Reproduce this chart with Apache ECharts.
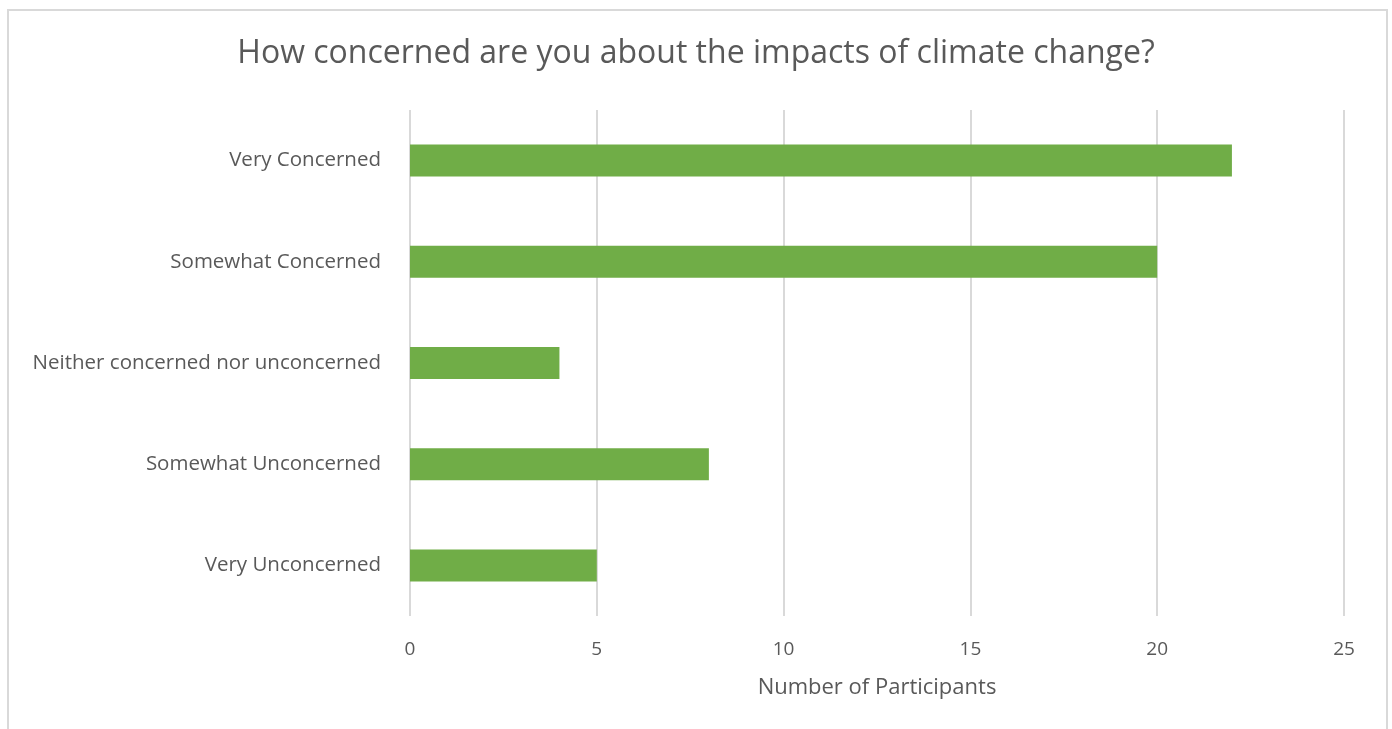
<!DOCTYPE html>
<html>
<head>
<meta charset="utf-8">
<script src="https://cdn.jsdelivr.net/npm/echarts@6/dist/echarts.min.js"></script>
<style>
  html, body { margin: 0; padding: 0; background: #fff; }
  #chart { width: 1392px; height: 729px; }
</style>
</head>
<body>
<div id="chart"></div>
<script>
// Survey responses, listed bottom-to-top as the category axis draws them
const categories = [
  'Very Unconcerned',
  'Somewhat Unconcerned',
  'Neither concerned nor unconcerned',
  'Somewhat Concerned',
  'Very Concerned'
];
const participants = [5, 8, 4, 20, 22];
const xTicks = [0, 5, 10, 15, 20, 25];

const FONT = '"Open Sans", "Noto Sans", sans-serif';
const TEXT = '#595959';

const chart = echarts.init(document.getElementById('chart'), null, { renderer: 'canvas' });
chart.setOption({
  backgroundColor: '#ffffff',
  animation: false,
  graphic: [{
    type: 'rect',
    shape: { x: 8, y: 10, width: 1379, height: 740 },
    style: { fill: 'none', stroke: '#d9d9d9', lineWidth: 2 },
    silent: true
  }],
  title: {
    text: 'How concerned are you about the impacts of climate change?',
    left: 'center',
    top: 33,
    textStyle: { fontFamily: FONT, fontSize: 32, fontWeight: 'normal', color: TEXT }
  },
  grid: { left: 410, right: 48, top: 110, bottom: 113, containLabel: false },
  xAxis: {
    type: 'value',
    min: xTicks[0],
    max: xTicks[xTicks.length - 1],
    interval: xTicks[1] - xTicks[0],
    name: 'Number of Participants',
    nameLocation: 'middle',
    nameGap: 61,
    nameTextStyle: { fontFamily: FONT, fontSize: 22, color: TEXT },
    axisLine: { show: false },
    axisTick: { show: false },
    axisLabel: { fontFamily: FONT, fontSize: 19, color: TEXT, margin: 24 },
    splitLine: { show: true, lineStyle: { color: '#d9d9d9', width: 2 } }
  },
  yAxis: {
    type: 'category',
    data: categories,
    axisLine: { show: false },
    axisTick: { show: false },
    axisLabel: { fontFamily: FONT, fontSize: 20.5, color: TEXT, margin: 29 },
    splitLine: { show: false }
  },
  series: [{
    type: 'bar',
    data: participants,
    barWidth: 32,
    itemStyle: { color: '#70ad47' }
  }]
});
</script>
</body>
</html>
